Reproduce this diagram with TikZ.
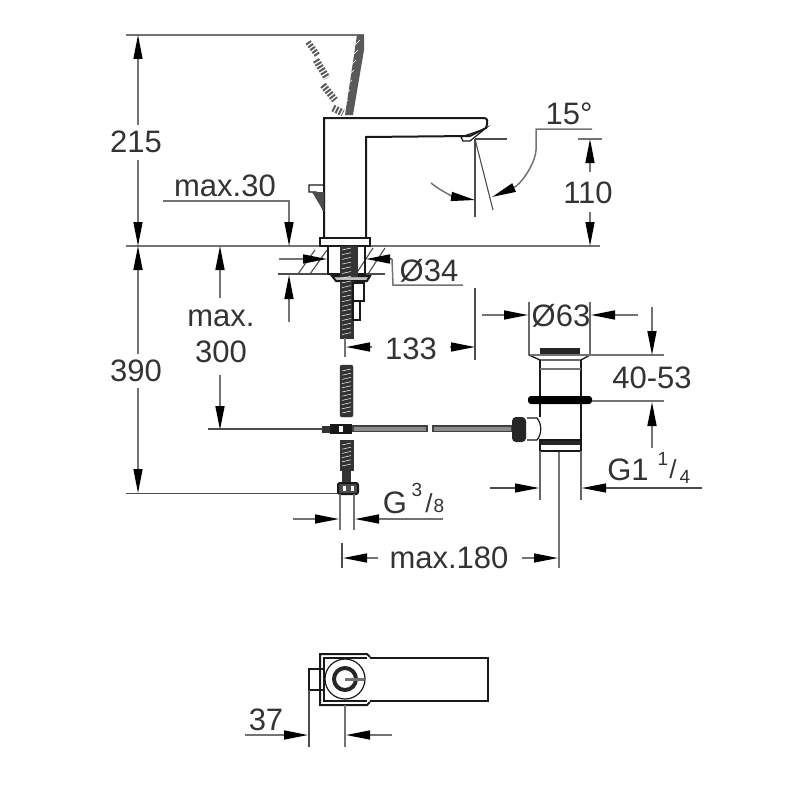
\documentclass[tikz,border=0pt]{standalone}
\usepackage{fontspec}
\setmainfont{Liberation Sans}
\usetikzlibrary{arrows.meta,positioning}
\tikzset{
	dimline/.style={draw=black!55, line width=1.5pt},
	thinline/.style={draw=black!70, line width=1.1pt},
	partline/.style={draw=black!90, line width=2pt},
	dimarrow/.style={dimline, -{Triangle[length=24pt,width=9pt,color=black]}},
	dimtext/.style={text=black!80, inner sep=0pt, font=\fontsize{31}{34}\selectfont},
	smalltext/.style={text=black!80, inner sep=0pt, font=\fontsize{19}{21}\selectfont},
	hosepart/.style={fill=black!80, draw=black!80}
}
\begin{document}
\begin{tikzpicture}[x=1pt, y=-1pt]
	\useasboundingbox (0,0) rectangle (800,800);

	% height lines
	\draw[dimline] (126,35) -- (364,35);
	\draw[dimline] (126,246) -- (600,246);
	\draw[thinline] (126,493.5) -- (340,493.5);
	\draw[dimarrow] (138,125) -- (138,35);
	\draw[dimarrow] (138,160) -- (138,246);
	\node[dimtext] (hTop) at (136,142) {215};
	\draw[dimarrow] (138,354) -- (138,246);
	\draw[dimarrow] (138,388) -- (138,493);
	\node[dimtext] (hBottom) at (136,371) {390};

	% spout and lever
	\draw[partline] (324,237) -- (324,118) -- (484,118) .. controls (488,118) and (488,122) .. (486,128) -- (470,136) -- (366,137) -- (366,237);
	\draw[partline, line width=1.2pt] (461,137) -- (482,130) -- (486,128) -- (470,141) -- (463,141) -- cycle;
	\draw[partline] (320,238) rectangle (370,246);
	\fill[black!65] (357,35) -- (364,35) -- (364,50) -- (353,115) -- (345,115) -- cycle;
	\foreach \t in {0,...,6} {
		\draw[white, line width=0.5pt] (360-\t*2,40+\t*10) -- (355-\t*2,45+\t*10);
	}
	\draw[black!65, line width=6pt, dash pattern=on 2pt off 1.5pt] (308,42) -- (318,56);
	\draw[black!65, line width=7pt, dash pattern=on 2pt off 1.5pt] (316,60) -- (327,78);
	\draw[black!65, line width=7pt, dash pattern=on 2pt off 1.5pt] (323,85) -- (335,100);
	\draw[black!65, line width=7pt, dash pattern=on 2pt off 1.5pt] (333,108) -- (343,113);
	\draw[partline, line width=1.4pt] (324,185) -- (309,185) -- (309,192) -- (316,192) -- (324,212);
	\fill[black!70] (312,192) -- (324,192) -- (324,212) -- cycle;

	% max.30
	\node[dimtext] (maxThirty) at (225,186) {max.30};
	\draw[dimarrow] (163,201) -- (289,201) -- (289,246);

	% spray angle
	\node[dimtext] (angleText) at (569,114) {15°};
	\draw[thinline] (475,139) -- (507,139);
	\draw[thinline] (475,139) -- (475,217);
	\draw[thinline] (475,139) -- (493,210);
	\draw[dimline, -{Triangle[length=24pt,width=9pt,color=black]}] (592,129) -- (536,129) -- (536,150) .. controls (535,165) and (520,185) .. (492,197);
	\draw[dimline, -{Triangle[length=24pt,width=9pt,color=black]}] (431,183) .. controls (442,192) and (455,197) .. (475,200);

	% 110
	\draw[dimline] (578,139) -- (602,139);
	\draw[dimarrow] (590,172) -- (590,139);
	\draw[dimarrow] (590,212) -- (590,246);
	\node[dimtext] (spoutHeight) at (588,193) {110};

	% deck and mounting
	\draw[thinline] (278,274) -- (385,274);
	\foreach \x in {0,1} {
		\draw[thinline] (327-\x*12,250) -- (310-\x*12,274);
		\draw[thinline] (385-\x*12,248) -- (368-\x*12,274);
	}
	\draw[partline] (328,246) rectangle (365,274);
	\draw[partline, fill=black!25] (332,276) -- (370,276) -- (367,281) -- (336,281) -- cycle;
	\draw[hosepart] (340,246) rectangle (357,276);
	\draw[hosepart] (340,281) rectangle (353,338);
	\foreach \y in {0,...,18} {
		\draw[white, line width=0.5pt] (342,250+\y*4.7) -- (351,248+\y*4.7);
	}
	\draw[partline, line width=1.2pt] (353,283) rectangle (364,301);
	\draw[partline, line width=1.2pt] (353,301) rectangle (360,320);
	\draw[dimarrow] (279,259) -- (327,259);
	\draw[dimarrow] (392,259) -- (366,259);
	\draw[dimline] (392,259) -- (393,285) -- (463,285);
	\node[dimtext] (holeSize) at (429,271) {Ø34};
	\draw[dimarrow] (289,322) -- (289,275);

	% max. 300
	\draw[dimarrow] (220,298) -- (220,246);
	\node[dimtext] (maxLabel) at (221,318) {max.};
	\node[dimtext] (maxDepth) at (221,352) {300};
	\draw[dimarrow] (220,375) -- (220,430);
	\draw[thinline] (208,429) -- (322,429);

	% 133
	\draw[dimline] (345,338) -- (345,357);
	\draw[dimarrow] (372,347) -- (346,347);
	\node[dimtext] (hoseDist) at (411,349) {133};
	\draw[dimarrow] (450,347) -- (475,347);
	\draw[thinline] (475,288) -- (475,360);

	% hose and connector
	\draw[hosepart, rounded corners=2pt] (340,365) rectangle (353,417);
	\foreach \y in {0,...,10} {
		\draw[white, line width=0.5pt] (342,371+\y*4.2) -- (351,369+\y*4.2);
	}
	\draw[hosepart] (322,426) rectangle (350,432);
	\fill[black!90] (330,424) rectangle (352,434);
	\fill[white] (339,426) rectangle (343,432);
	\draw[hosepart] (340,440) rectangle (353,470);
	\foreach \y in {0,...,5} {
		\draw[white, line width=0.5pt] (342,445+\y*4.2) -- (351,443+\y*4.2);
	}
	\draw[hosepart] (342,470) rectangle (350,482);
	\draw[partline, fill=black!70, rounded corners=2pt] (338,483) rectangle (358,494);
	\foreach \x in {343,351} {
		\fill[white] (\x,486) rectangle (\x+2.5,491);
	}
	\draw[draw=black!75, fill=black!45, line width=1.4pt] (353,426) rectangle (427,431.5);
	\draw[draw=black!75, fill=black!45, line width=1.4pt] (433,426) rectangle (512,431.5);

	% G3/8
	\draw[dimline] (340,494) -- (340,530);
	\draw[dimline] (354,494) -- (354,530);
	\draw[dimarrow] (293,519) -- (339,519);
	\draw[dimarrow] (443,519) -- (355,519);
	\node[dimtext] (threadG) at (395,503) {G};
	\node[smalltext] (threadTop) at (417,490) {3};
	\node[dimtext, font=\fontsize{26}{28}\selectfont] (threadSlash) at (429,503) {/};
	\node[smalltext] (threadBot) at (439,506) {8};

	% max.180
	\draw[thinline] (342,543) -- (342,568);
	\draw[dimarrow] (378,558) -- (343,558);
	\node[dimtext] (maxReach) at (449,558) {max.180};
	\draw[dimarrow] (522,558) -- (558,558);

	% drain
	\draw[dimline, line width=2pt] (559,451) -- (559,568);
	\draw[partline] (540,360) -- (540,417);
	\draw[partline] (581,360) -- (581,440);
	\draw[partline, line width=1.3pt] (529,302) -- (529,355) -- (540,360) -- (581,360) -- (590,355) -- (590,302);
	\fill[black!85] (540,348) rectangle (580,354);
	\draw[dimline] (530,355) -- (664,355);
	\draw[dimline] (540,369) -- (581,369);
	\fill[black, rounded corners=3pt] (528,396) rectangle (592,404);
	\draw[dimline] (592,401) -- (664,401);
	\draw[partline, fill=white, line width=1.2pt] (527,418) -- (537,418) .. controls (542,424) and (542,434) .. (537,440) -- (527,440);
	\fill[black!85, rounded corners=4pt] (512,417) rectangle (526,442);
	\fill[black!85] (540,440) rectangle (581,445);
	\draw[partline] (540,440) rectangle (581,451);
	\draw[partline, black!60] (540,451) -- (540,500);
	\draw[partline, black!60] (581,451) -- (581,500);

	% dimensions at the drain
	\draw[dimarrow] (482,315) -- (528,315);
	\draw[dimarrow] (638,315) -- (591,315);
	\node[dimtext] (drainSize) at (561,316) {Ø63};
	\draw[dimarrow] (652,307) -- (652,355);
	\draw[dimarrow] (652,448) -- (652,402);
	\node[dimtext] (drainHeight) at (652,378) {40-53};
	\draw[dimarrow, thinline] (490,488) -- (539,488);
	\draw[dimarrow, thinline] (702,488) -- (582,488);
	\node[dimtext] (drainThread) at (628,470) {G1};
	\node[smalltext] (drainTop) at (663,459) {1};
	\node[dimtext, font=\fontsize{26}{28}\selectfont] (drainSlash) at (673,469) {/};
	\node[smalltext] (drainBot) at (685,477) {4};

	% top view
	\draw[partline] (370,658) -- (488,658) -- (488,701) -- (370,701);
	\draw[partline] (370,657) -- (367,654) -- (320,654) -- (320,705) -- (367,705) -- (370,702);
	\draw[partline, line width=1.2pt] (367,658) -- (324,658) -- (324,701) -- (367,701);
	\draw[partline, line width=1.2pt] (324,669) -- (309,669) -- (309,690) -- (324,690);
	\draw[partline, line width=1.2pt] (345,679) circle (20);
	\draw[black!85, line width=4pt] (345,679) circle (11);
	\draw[dimline, line width=3pt] (345,679) -- (364,679);
	\draw[thinline] (309,690) -- (309,747);
	\draw[dimline] (345,705) -- (345,747);
	\draw[dimarrow] (245,735) -- (308,735);
	\draw[dimarrow] (392,735) -- (346,735);
	\node[dimtext] (leverOffset) at (266,720) {37};
\end{tikzpicture}
\end{document}
